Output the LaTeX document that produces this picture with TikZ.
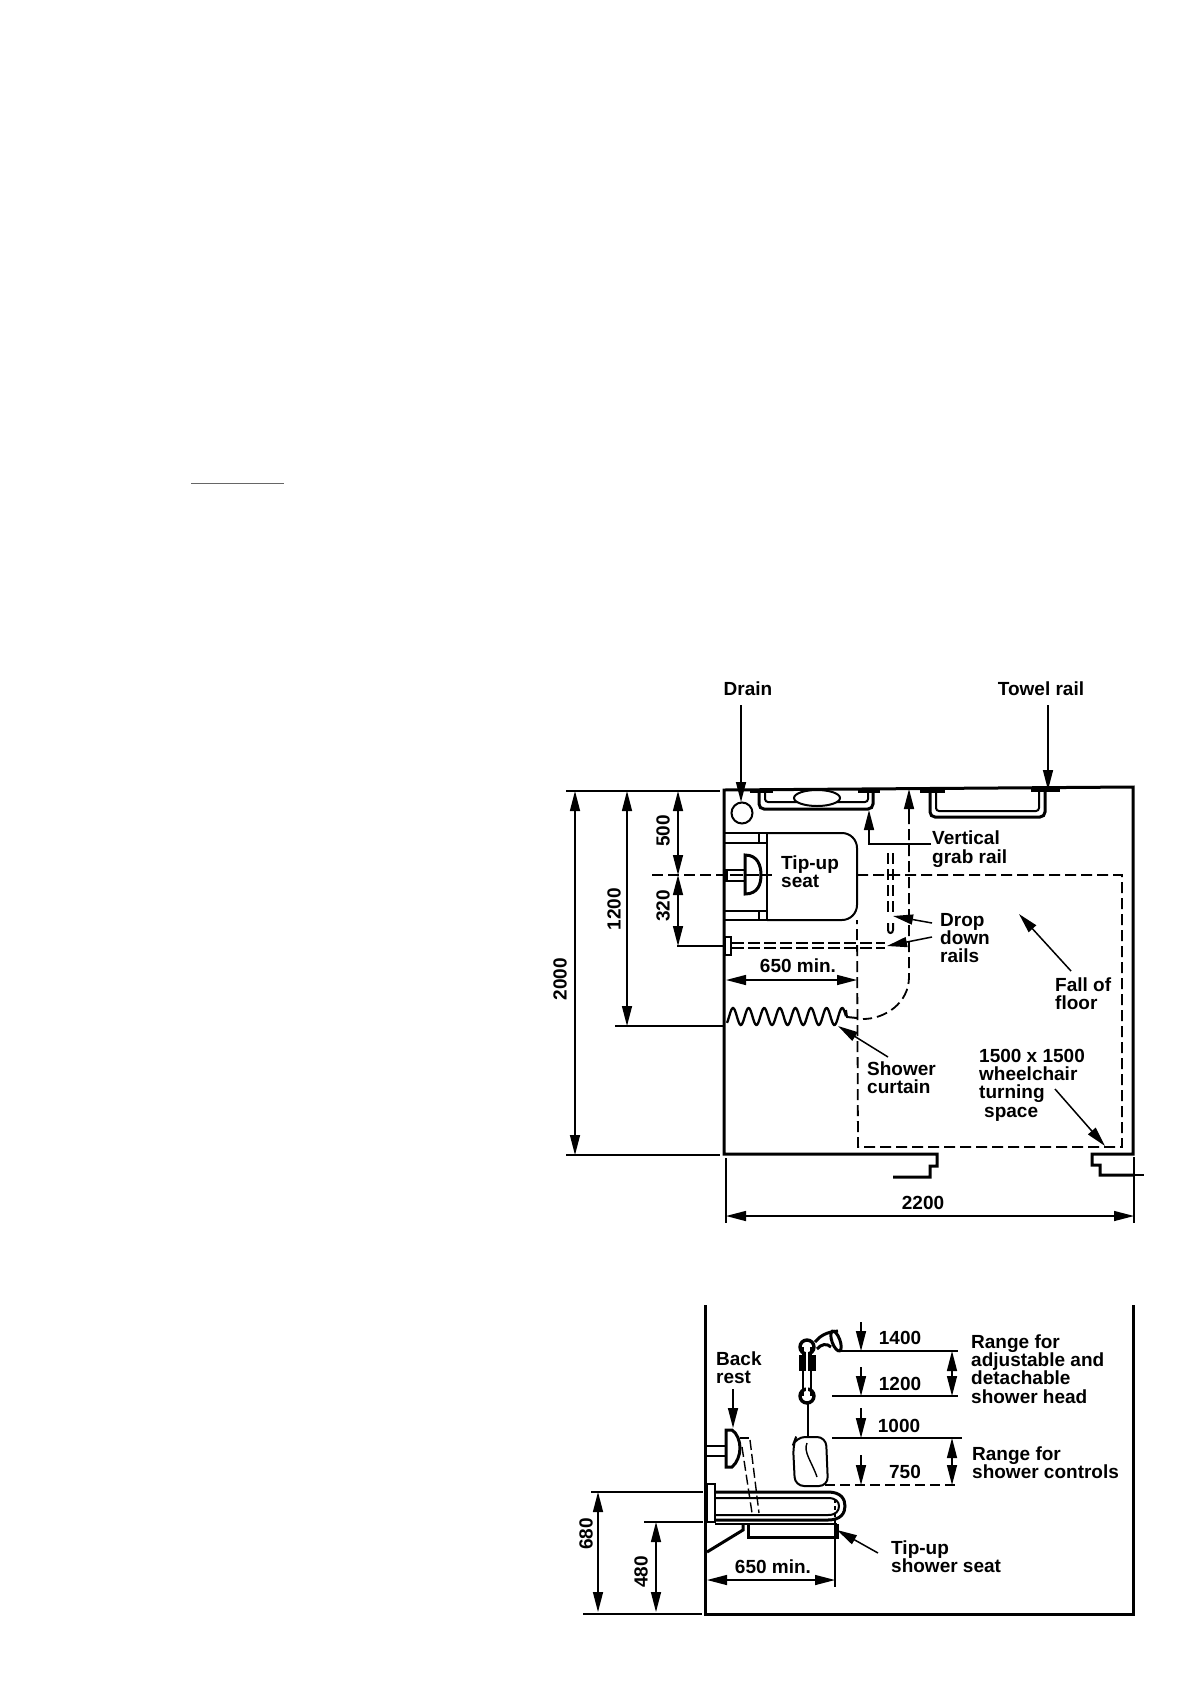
\documentclass[tikz,border=0pt]{standalone}
\usepackage{fontspec}
\setmainfont{Liberation Sans}
\usetikzlibrary{arrows.meta}
\tikzset{
  lab/.style={font=\fontsize{19}{18.3}\selectfont\bfseries,inner sep=0pt,align=left,text=black},
  clab/.style={lab,align=center},
  wall/.style={line width=3pt,line join=miter},
  med/.style={line width=2pt},
  thick2/.style={line width=3pt},
  thin2/.style={line width=1.4pt},
  dsh/.style={line width=1.8pt,dash pattern=on 11pt off 5pt},
  dim/.style={line width=1.4pt,{Triangle[length=20pt,width=10pt]}-{Triangle[length=20pt,width=10pt]}},
  lead/.style={line width=1.5pt,-{Triangle[length=20pt,width=10pt]}},
}
\begin{document}
\begin{tikzpicture}[x=1pt,y=-1pt]
\useasboundingbox (0,0) rectangle (1190,1684);
\draw[line width=.8pt,black!60] (191,483) -- (284,483);

%% ---------- PLAN ----------
% walls
\draw[wall] (893,1177) -- (930,1177) -- (930,1166) -- (937,1166) -- (937,1154) -- (724,1154) -- (724,790) -- (1133,787) -- (1133,1154) -- (1092,1154) -- (1092,1165) -- (1100,1165) -- (1100,1175) -- (1133,1175);
\draw[thin2] (1133,1175) -- (1144,1175);
% extension lines
\draw[thin2] (566,791) -- (720,791);
\draw[thin2] (566,1155) -- (720,1155);
\draw[thin2] (615,1026) -- (724,1026);
\draw[thin2] (677,946) -- (724,946);
\draw[thin2] (726,1158) -- (726,1223);
\draw[thin2] (1134,1157) -- (1134,1223);
% dashed reference and turning space
\draw[dsh] (652,875) -- (772,875);
\draw[dsh] (857,875) -- (1122,875) -- (1122,1147) -- (858,1147) -- (857,920);
% dimensions
\draw[dim] (575,791) -- (575,1155);
\draw[dim] (627,791) -- (627,1026);
\draw[dim] (678,791) -- (678,875);
\draw[dim] (678,875) -- (678,946);
\draw[dim] (726,1216) -- (1134,1216);
\draw[dim] (726,980) -- (857,980);
\node[clab,rotate=90] (d2000) at (560,979) {2000};
\node[clab,rotate=90] (d1200) at (614,909) {1200};
\node[clab,rotate=90] (d500) at (663,831) {500};
\node[clab,rotate=90] (d320) at (663,906) {320};
\node[clab] (d2200) at (923,1203) {2200};
\node[clab] (d650a) at (798,966) {650 min.};
% drain
\node[clab] (ldrain) at (748,689) {Drain};
\draw[med] (742,813) circle[radius=10.5pt];
\coordinate (drainS) at (741,705);
\coordinate (drainT) at (741,802);
\draw[lead] (drainS) -- (drainT);
% towel rail 1 (grab rail)
\draw[thick2] (750,791) -- (773,791) (858,791) -- (880,791);
\draw[thick2,rounded corners=5pt] (759,793) -- (759,809) -- (873,809) -- (873,793);
\draw[med,rounded corners=3pt] (765,793) -- (765,802) -- (868,802) -- (868,793);
\draw[med,fill=white] (817,798) ellipse[x radius=23pt,y radius=8pt];
% towel rail 2
\node[clab] (ltowel) at (1041,689) {Towel rail};
\draw[thick2] (920,791) -- (945,791) (1031,790) -- (1060,790);
\draw[thick2,rounded corners=5pt] (930,793) -- (930,817) -- (1045,817) -- (1045,792);
\draw[med,rounded corners=3pt] (936,793) -- (936,811) -- (1039,811) -- (1039,792);
\coordinate (towelS) at (1048,705);
\coordinate (towelT) at (1048,790);
\draw[lead] (towelS) -- (towelT);
% seat
\draw[med,fill=white,rounded corners=15pt] (767,833) -- (857,833) -- (857,920) -- (767,920);
\draw[med] (767,833) -- (767,920);
\draw[med] (724,833) -- (767,833) (724,843) -- (767,843) (724,911) -- (767,911) (724,920) -- (767,920);
\draw[med] (759,833) -- (759,843) (759,911) -- (759,920);
\draw[thick2] (745,855) .. controls (758,855) and (761,866) .. (761,875) .. controls (761,884) and (758,894) .. (745,894) -- cycle;
\draw[med] (725,870) -- (745,870) (725,881) -- (745,881);
\draw[thick2] (726,870) -- (726,881);
\draw[dsh] (730,875) -- (772,875);
\node[lab,anchor=west] (lseat) at (781,872) {Tip-up\\seat};
% vertical grab rail and drop down rails
\draw[dsh] (888,853) -- (888,915);
\draw[dsh] (893,853) -- (893,915);
\draw[med] (888,923) -- (888,930) .. controls (888,934) and (893,934) .. (893,930) -- (893,923);
\draw[line width=1.5pt,dash pattern=on 12pt off 4pt] (732,943) -- (885,943) (732,948) -- (885,948);
\draw[med,fill=white] (725,937) rectangle (731,955);
\node[lab,anchor=west] (lvert) at (932,849) {Vertical\\grab rail};
\coordinate (vertA) at (931,844);
\coordinate (vertB) at (869,844);
\coordinate (vertT) at (869,810);
\draw[lead] (vertA) -- (vertB) -- (vertT);
\node[lab,anchor=west] (ldrop) at (940,938) {Drop\\down\\rails};
\coordinate (dropA) at (932,923);
\coordinate (dropB) at (932,937);
\coordinate (dropTa) at (893,916);
\coordinate (dropTb) at (887,946);
\draw[lead] (dropA) -- (dropTa);
\draw[lead] (dropB) -- (dropTb);
% curtain swing
\draw[dsh] (909,813) -- (909,977) .. controls (909,1003) and (885,1019) .. (863,1019);
\coordinate (swingS) at (909,813);
\coordinate (swingT) at (909,789);
\draw[lead] (swingS) -- (swingT);
% curtain
\draw[line width=2.3pt] plot[smooth,domain=727:846,samples=140] (\x,{1016.5-8.5*cos((\x-733)*23.08)});
\draw[med] (846,1010) -- (847,1017) -- (857,1018);
\node[lab,anchor=west] (lcurt) at (867,1078) {Shower\\curtain};
\coordinate (curtS) at (888,1057);
\coordinate (curtT) at (838,1026);
\draw[lead] (curtS) -- (curtT);
% fall of floor
\node[lab,anchor=west] (lfall) at (1055,994) {Fall of\\floor};
\coordinate (fallS) at (1071,971);
\coordinate (fallT) at (1019,914);
\draw[lead] (fallS) -- (fallT);
% turning space
\node[lab,anchor=west] (lturn) at (979,1085) {1500 x 1500\\wheelchair\\turning\\\hspace*{5pt}space};
\coordinate (turnS) at (1055,1089);
\coordinate (turnT) at (1105,1146);
\draw[lead] (turnS) -- (turnT);

%% ---------- ELEVATION ----------
\draw[wall] (705,1305) -- (705,1614) -- (1133,1614) -- (1133,1305);
\draw[thin2] (591,1492) -- (703,1492);
\draw[thin2] (644,1522) -- (703,1522);
\draw[thin2] (583,1614) -- (702,1614);
\draw[dim] (598,1492) -- (598,1612);
\draw[dim] (656,1522) -- (656,1612);
\node[clab,rotate=90] (d680) at (586,1534) {680};
\node[clab,rotate=90] (d480) at (641,1572) {480};
\draw[thin2] (835,1520) -- (835,1587);
\draw[dim] (707,1580) -- (835,1580);
\node[clab] (d650b) at (773,1567) {650 min.};
% back rest
\draw[med] (705,1446) -- (726,1446) (705,1456) -- (726,1456);
\draw[thick2] (726,1430) -- (732,1430) .. controls (737,1433) and (740,1441) .. (740,1448) .. controls (740,1455) and (737,1463) .. (732,1467) -- (726,1467) -- cycle;
\draw[line width=1.4pt] (740,1438) -- (749,1438);
\draw[line width=1.4pt,dash pattern=on 10pt off 4pt] (742,1447) -- (752,1513);
\draw[line width=1.4pt,dash pattern=on 10pt off 4pt] (750,1440) -- (759,1513);
\node[lab,anchor=west] (lback) at (716,1368) {Back\\rest};
\coordinate (backS) at (733,1389);
\coordinate (backT) at (733,1428);
\draw[lead] (backS) -- (backT);
% horizontal rail
\draw[med] (707,1484) rectangle (715,1522);
\draw[thick2] (715,1492) -- (828,1492) .. controls (841,1492) and (845,1499) .. (845,1506) .. controls (845,1513) and (841,1520) .. (828,1520) -- (715,1520);
\draw[med] (715,1498) -- (828,1498) .. controls (836,1498) and (839,1502) .. (839,1506) .. controls (839,1511) and (836,1515) .. (828,1515) -- (715,1515);
\draw[line width=1.2pt,dash pattern=on 4pt off 3pt] (835,1499) -- (835,1518);
% seat
\draw[thin2] (715,1524) -- (837,1524);
\draw[thick2] (748,1524) -- (748,1537) -- (837,1537) -- (837,1524);
\draw[thick2] (743,1524) -- (743,1530) -- (707,1552);
% shower head
\draw[line width=3.4pt] (807,1347) circle[radius=7pt];
\draw[line width=3.4pt] (807,1396) circle[radius=7pt];
\draw[med] (803,1347) -- (803,1396) (811,1347) -- (811,1396);
\fill (799,1355) rectangle (816,1371);
\draw[white,line width=1.2pt] (807,1348) -- (807,1394);
\draw[thick2] (815,1342) .. controls (820,1336) and (826,1332) .. (838,1331);
\draw[thick2] (817,1349) .. controls (821,1344) and (827,1343) .. (831,1347);
\draw[thick2,rotate around={20:(836,1341)}] (836,1341) ellipse[x radius=4pt,y radius=10.5pt];
\draw[med] (808,1404) -- (808,1437);
% controls
\draw[med,rounded corners=9pt] (796,1437) -- (826,1437) -- (828,1486) -- (795,1486) -- (793,1445) -- cycle;
\draw[thin2] (807,1443) .. controls (803,1452) and (812,1462) .. (817,1477);
% height lines
\draw[thin2] (837,1351) -- (958,1351);
\draw[thin2] (832,1396) -- (958,1396);
\draw[thin2] (832,1438) -- (962,1438);
\draw[thin2,dash pattern=on 10pt off 5pt] (825,1485) -- (958,1485);
\coordinate (a1) at (861,1322); \coordinate (b1) at (861,1351);
\coordinate (a2) at (861,1367); \coordinate (b2) at (861,1396);
\coordinate (a3) at (861,1408); \coordinate (b3) at (861,1438);
\coordinate (a4) at (861,1455); \coordinate (b4) at (861,1485);
\draw[lead] (a1) -- (b1);
\draw[lead] (a2) -- (b2);
\draw[lead] (a3) -- (b3);
\draw[lead] (a4) -- (b4);
\draw[dim] (952,1351) -- (952,1396);
\draw[dim] (952,1438) -- (952,1485);
\node[clab] (h1400) at (900,1338) {1400};
\node[clab] (h1200) at (900,1384) {1200};
\node[clab] (h1000) at (899,1426) {1000};
\node[clab] (h750) at (905,1472) {750};
\node[lab,anchor=west] (lrange1) at (971,1369) {Range for\\adjustable and\\detachable\\shower head};
\node[lab,anchor=west] (lrange2) at (972,1463) {Range for\\shower controls};
\node[lab,anchor=west] (ltip) at (891,1557) {Tip-up\\shower seat};
\coordinate (tipS) at (878,1553);
\coordinate (tipT) at (837,1530);
\draw[lead] (tipS) -- (tipT);
\end{tikzpicture}
\end{document}
